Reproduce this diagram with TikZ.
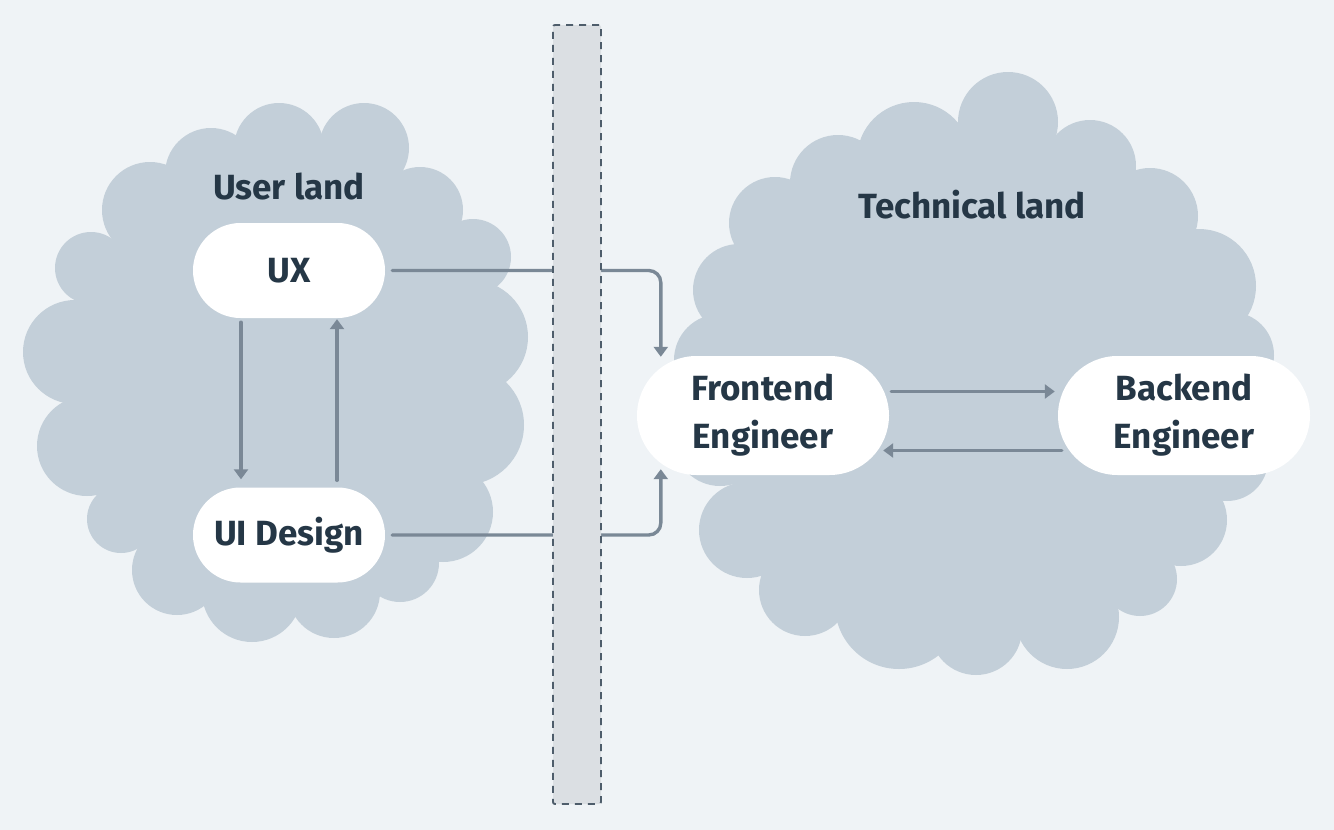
\documentclass[tikz,border=0pt]{standalone}
\usepackage{fontspec}
\setmainfont{Fira Sans}
\usetikzlibrary{arrows.meta,calc}
\definecolor{bgc}{HTML}{EFF3F6}
\definecolor{cloudc}{HTML}{C3CFD9}
\definecolor{barfill}{HTML}{DBDFE3}
\definecolor{barline}{HTML}{4E5D6B}
\definecolor{arrc}{HTML}{7A8896}
\definecolor{txtc}{HTML}{253746}
\tikzset{
  cloudfill/.style={fill=cloudc},
  pill/.style={fill=white, draw=none, inner sep=0pt, text=txtc,
    font=\fontsize{35}{48}\selectfont\bfseries, align=center},
  smallpill/.style={pill, minimum width=192pt, minimum height=95pt, rounded corners=47.5pt},
  bigpill/.style={pill, minimum width=252pt, minimum height=119pt, rounded corners=59.5pt},
  titletext/.style={text=txtc, font=\fontsize{35}{42}\selectfont\bfseries, inner sep=0pt},
  arr/.style={draw=arrc, line width=3.4pt, line cap=round, -{Triangle[length=10pt,width=14pt]}},
  barbox/.style={fill=barfill, draw=barline, line width=1.9pt, dash pattern=on 7pt off 6pt,
    rounded corners=2pt, minimum width=48pt, minimum height=779pt, inner sep=0pt},
}
\begin{document}
\begin{tikzpicture}[x=1pt,y=-1pt]
\useasboundingbox (0,0) rectangle (1334,830);
\fill[bgc] (0,0) rectangle (1334,830);

% left cloud
\fill[cloudfill] (91,268) -- (150,210) -- (211,174) -- (279,148) -- (364,148) -- (420,210)
  -- (473,257) -- (471,337) -- (464,425) -- (443,512) -- (400,563) -- (334,592) -- (252,592)
  -- (177,570) -- (121,519) -- (87,446) -- (75,352) -- cycle;
\foreach \cx/\cy/\r in {91/268/36, 150/210/48, 211/174/46, 279/148/45, 364/148/45, 420/210/43,
  473/257/38, 471/337/57, 464/425/60, 443/512/50, 400/563/39, 334/592/46, 252/592/50,
  177/570/45, 121/519/34, 87/446/50, 75/352/52}
  \fill[cloudfill] (\cx,\cy) circle (\r pt);

% right cloud
\fill[cloudfill] (1008,122) -- (914,159) -- (838,183) -- (775,223) -- (739,290) -- (720,360)
  -- (720,440) -- (747,530) -- (805,590) -- (899,605) -- (976,629) -- (1067,617) -- (1140,579)
  -- (1181,520) -- (1227,460) -- (1231,355) -- (1199,286) -- (1150,216) -- (1090,166) -- cycle;
\foreach \cx/\cy/\r in {1008/122/50, 914/159/57, 838/183/48, 775/223/46, 739/290/46, 720/360/46,
  720/440/46, 747/530/48, 805/590/46, 899/605/64, 976/629/46, 1067/617/52, 1140/579/37,
  1181/520/46, 1227/460/41, 1231/355/43, 1199/286/57, 1150/216/48, 1090/166/46}
  \fill[cloudfill] (\cx,\cy) circle (\r pt);

% titles
\node[titletext] (userland) at (289,187) {User land};
\node[titletext] (techland) at (972,205) {Technical land};

% nodes
\node[smallpill] (ux) at (289,270.5) {UX};
\node[smallpill] (ui) at (289,535) {UI Design};
\node[bigpill] (fe) at (763,415.5) {Frontend\\Engineer};
\node[bigpill] (be) at (1184,415.5) {Backend\\Engineer};

% connectors across the barrier
\draw[arr, rounded corners=12pt] ([xshift=7pt]ux.east) -| ([xshift=24pt,yshift=-1pt]fe.north west);
\draw[arr, rounded corners=12pt] ([xshift=7pt]ui.east) -| ([xshift=24pt,yshift=6pt]fe.south west);

% barrier
\node[barbox] (bar) at (577,414.5) {};

% vertical arrows
\draw[arr] ([xshift=-48pt,yshift=-4pt]ux.south) -- ([xshift=-48pt,yshift=8pt]ui.north);
\draw[arr] ([xshift=48pt,yshift=7pt]ui.north) -- ([xshift=48pt,yshift=-1pt]ux.south);

% horizontal arrows
\draw[arr] ([xshift=2pt,yshift=24pt]fe.east) -- ([xshift=-3pt,yshift=24pt]be.west);
\draw[arr] ([xshift=4pt,yshift=-35pt]be.west) -- ([xshift=-6pt,yshift=-35pt]fe.east);
\end{tikzpicture}
\end{document}
